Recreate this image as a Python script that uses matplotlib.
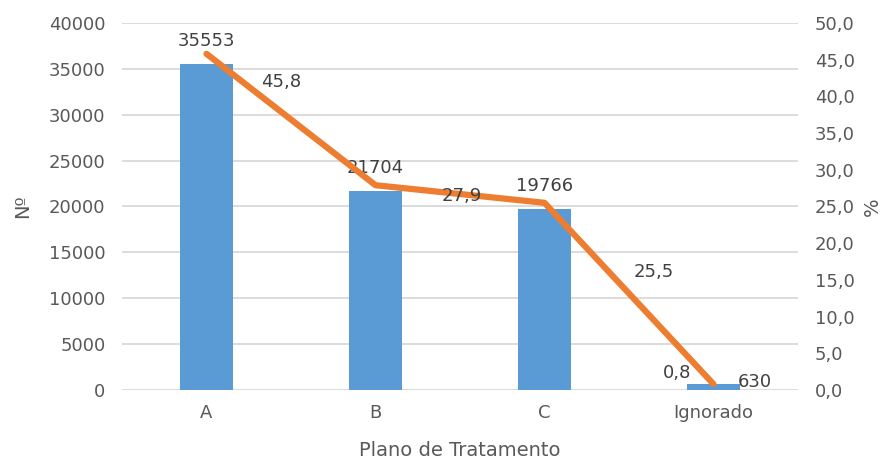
import numpy as np
import matplotlib
matplotlib.use('Agg')
import matplotlib.pyplot as plt

# Plano de tratamento: número de casos e percentual
categorias = ['A', 'B', 'C', 'Ignorado']
casos = [35553, 21704, 19766, 630]
percentual = [45.8, 27.9, 25.5, 0.8]

plt.rcParams['font.family'] = ['DejaVu Sans']
cinza = '#595959'

fig = plt.figure(figsize=(8.95, 4.62), dpi=100)
ax = fig.add_axes([122/895, 72/462, 676/895, 367/462])
ax2 = ax.twinx()

x = np.arange(len(categorias))
ax.bar(x, casos, width=0.31, color='#5B9BD5', zorder=2)
ax2.plot(x, percentual, color='#ED7D31', lw=4.5, solid_capstyle='round', zorder=3)

ax.set_xlim(-0.5, len(categorias) - 0.5)
ax.set_ylim(0, 40000)
ax.set_yticks(np.arange(0, 40001, 5000))
ax2.set_ylim(0, 50)
ax2.set_yticks(np.arange(0, 50.1, 5))
ax2.set_yticklabels([('%.1f' % v).replace('.', ',') for v in np.arange(0, 50.1, 5)])

ax.set_xticks(x)
ax.set_xticklabels(categorias)
ax.grid(axis='y', color='#d9d9d9', lw=1.3, zorder=0)
ax.set_axisbelow(True)

for a in (ax, ax2):
    for s in a.spines.values():
        s.set_visible(False)
    a.tick_params(length=0, labelsize=13, colors=cinza)
ax.tick_params(axis='y', pad=12)
ax.tick_params(axis='x', pad=10)
ax2.tick_params(axis='y', pad=12)

ax.set_xlabel('Plano de Tratamento', fontsize=14, color=cinza, labelpad=14)
ax.set_ylabel('Nº', fontsize=14, color=cinza, labelpad=12)
ax2.set_ylabel('%', fontsize=14, color=cinza, labelpad=6)

# rótulos das barras
desl_barra = [(0, 10), (0, 10), (0, 10), (30, -5)]
for i, v in enumerate(casos):
    dx, dy = desl_barra[i]
    ax.annotate(str(v), (x[i], v), xytext=(dx, dy), textcoords='offset points',
                ha='center', va='bottom', fontsize=13, color='#404040')

# rótulos da linha
desl_linha = [(54, -20), (62, -8), (79, -50), (-26, 8)]
for i, v in enumerate(percentual):
    dx, dy = desl_linha[i]
    ax2.annotate(('%.1f' % v).replace('.', ','), (x[i], v), xytext=(dx, dy),
                 textcoords='offset points', ha='center', va='center',
                 fontsize=13, color='#404040')

fig.savefig('out.png', dpi=100)
